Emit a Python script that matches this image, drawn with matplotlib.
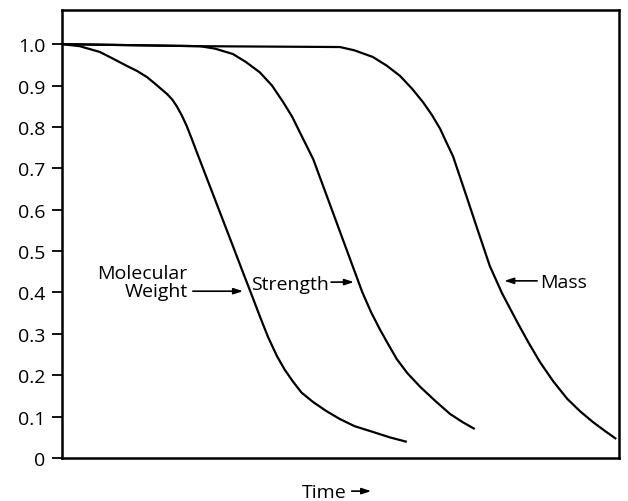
import matplotlib
matplotlib.use("Agg")
import matplotlib.pyplot as plt

plt.rcParams['font.family'] = ['Open Sans', 'DejaVu Sans']

# curves (time in arbitrary units 0-100, fraction remaining)
mw_t = [0, 3.2, 5.0, 6.8, 9.0, 11.7, 13.5, 15.3, 17.0, 18.9, 19.8, 20.6, 21.5, 22.4,
        23.3, 24.2, 26.0, 27.8, 29.6, 31.0, 32.5, 33.8, 35.5, 37.0, 38.6, 40.0,
        41.5, 43.0, 45.1, 47.5, 49.9, 52.5, 55.8, 58.8, 61.9]
mw_v = [1.0, 0.995, 0.988, 0.981, 0.966, 0.947, 0.935, 0.920, 0.901, 0.879, 0.866,
        0.850, 0.828, 0.802, 0.771, 0.739, 0.676, 0.613, 0.550, 0.501, 0.448, 0.403,
        0.343, 0.292, 0.246, 0.213, 0.184, 0.158, 0.135, 0.113, 0.094, 0.077, 0.063,
        0.050, 0.039]

str_t = [0, 24.8, 27.5, 30.7, 33.0, 35.5, 37.7, 39.7, 41.3, 42.7, 45.1, 47.6, 49.9,
         52.2, 53.9, 55.5, 57.1, 58.6, 60.1, 62.0, 64.3, 67.0, 69.7, 72.0, 74.1]
str_v = [1.0, 0.995, 0.989, 0.976, 0.957, 0.932, 0.900, 0.860, 0.825, 0.787, 0.722,
         0.631, 0.547, 0.463, 0.401, 0.352, 0.310, 0.274, 0.239, 0.205, 0.172, 0.138,
         0.106, 0.086, 0.070]

mass_t = [0, 24.8, 49.9, 52.5, 55.8, 58.3, 60.7, 62.8, 64.8, 66.4, 67.9, 69.0, 70.2,
          72.7, 74.7, 76.8, 79.0, 81.7, 83.7, 85.8, 88.2, 90.7, 93.0, 95.3, 97.4, 99.5]
mass_v = [1.0, 0.995, 0.993, 0.985, 0.969, 0.948, 0.923, 0.893, 0.860, 0.829, 0.795,
          0.763, 0.729, 0.629, 0.548, 0.464, 0.398, 0.329, 0.280, 0.232, 0.185, 0.143,
          0.113, 0.087, 0.066, 0.046]

yticks = [0, 0.1, 0.2, 0.3, 0.4, 0.5, 0.6, 0.7, 0.8, 0.9, 1.0]
ytick_labels = ['0', '0.1', '0.2', '0.3', '0.4', '0.5', '0.6', '0.7', '0.8', '0.9', '1.0']

fig = plt.figure(figsize=(6.28, 5.02), dpi=100)
ax = fig.add_axes([0.0987, 0.0857, 0.887, 0.892])

for t, v in [(mw_t, mw_v), (str_t, str_v), (mass_t, mass_v)]:
    ax.plot(t, v, color='black', lw=1.6, solid_capstyle='butt', solid_joinstyle='round')

ax.set_xlim(0, 100)
ax.set_ylim(0, 1.082)
ax.set_xticks([])
ax.set_yticks(yticks)
ax.set_yticklabels(ytick_labels, fontsize=14)
ax.tick_params(axis='y', direction='out', length=7, width=1.3, pad=5)
for s in ax.spines.values():
    s.set_linewidth(1.8)

arrow = dict(arrowstyle='-|>,head_length=0.55,head_width=0.18', color='black', lw=1.2,
             shrinkA=0, shrinkB=0)
fs = 14

ax.text(22.6, 0.425, 'Molecular\nWeight', ha='right', va='center', fontsize=fs,
        linespacing=0.95, multialignment='right')
ax.annotate('', xy=(32.5, 0.403), xytext=(23.5, 0.403), arrowprops=arrow)

ax.text(34.0, 0.42, 'Strength', ha='left', va='center', fontsize=fs)
ax.annotate('', xy=(52.4, 0.425), xytext=(48.3, 0.425), arrowprops=arrow)

ax.text(85.8, 0.425, 'Mass', ha='left', va='center', fontsize=fs)
ax.annotate('', xy=(79.4, 0.428), xytext=(85.3, 0.428), arrowprops=arrow)

ax.text(0.430, -0.076, 'Time', transform=ax.transAxes, ha='left', va='center', fontsize=fs)
ax.annotate('', xy=(0.555, -0.074), xytext=(0.520, -0.074), xycoords='axes fraction',
            textcoords='axes fraction', arrowprops=arrow, annotation_clip=False)

fig.savefig('out.png', dpi=100)
